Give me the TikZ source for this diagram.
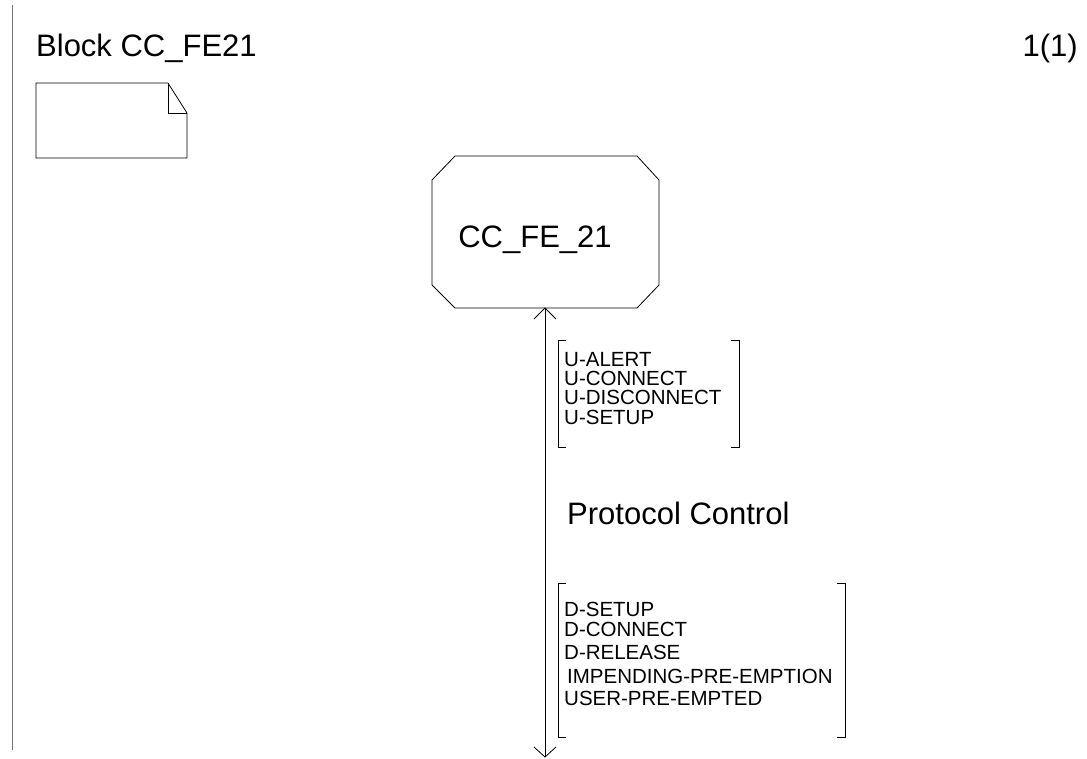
\documentclass[tikz,border=0pt]{standalone}
\usepackage{fontspec}
\setmainfont{Liberation Sans}
\begin{document}
\begin{tikzpicture}[x=1pt,y=-1pt,
  line/.style={draw=black,line width=0.8pt},
  sig/.style={anchor=base west,inner sep=0pt,font=\fontsize{20.5}{22}\selectfont},
  title/.style={inner sep=0pt,font=\fontsize{31}{34}\selectfont}]
\useasboundingbox (0,0) rectangle (1087,758);
\fill[white] (0,0) rectangle (1087,758);
% frame line
\draw[draw=black!55,line width=1pt] (12,5) -- (12,750);
% titles
\node[title,anchor=base west] (title) at (36,56) {Block CC\_FE21};
\node[title,anchor=base east] (page) at (1078,56) {1(1)};
% note symbol
\draw[line] (36,83) -- (168,83) -- (187,113) -- (187,158) -- (36,158) -- cycle;
\draw[line] (168,83) -- (168,113) -- (187,113);
% process block (octagon)
\draw[line] (455,156) -- (637,156) -- (659,180) -- (659,285) -- (637,308)
  -- (455,308) -- (432,285) -- (432,180) -- cycle;
\node[inner sep=0pt,font=\fontsize{31}{34}\selectfont,anchor=base] (blk) at (535,247) {CC\_FE\_21};
\coordinate (top) at (545,308);
\coordinate (bot) at (545,757);
% channel
\draw[line] (top) -- (bot);
\draw[line] (534,319) -- (top) -- (556,319);
\draw[line] (534,747) -- (bot) -- (556,747);
% upper signal list
\draw[line] (566,340) -- (558,340) -- (558,447) -- (566,447);
\draw[line] (731,340) -- (739,340) -- (739,447) -- (731,447);
\node[sig] (u1) at (564,366) {U-ALERT};
\node[sig] (u2) at (564,385) {U-CONNECT};
\node[sig] (u3) at (564,404) {U-DISCONNECT};
\node[sig] (u4) at (564,424) {U-SETUP};
% channel name
\node[title,anchor=base west] (pc) at (567,524) {Protocol Control};
% lower signal list
\draw[line] (566,583) -- (558,583) -- (558,737) -- (566,737);
\draw[line] (837,583) -- (845,583) -- (845,737) -- (837,737);
\node[sig] (d1) at (564,616) {D-SETUP};
\node[sig] (d2) at (564,636) {D-CONNECT};
\node[sig] (d3) at (564,659) {D-RELEASE};
\node[sig] (d4) at (567,683) {IMPENDING-PRE-EMPTION};
\node[sig] (d5) at (564,705) {USER-PRE-EMPTED};
\end{tikzpicture}
\end{document}
